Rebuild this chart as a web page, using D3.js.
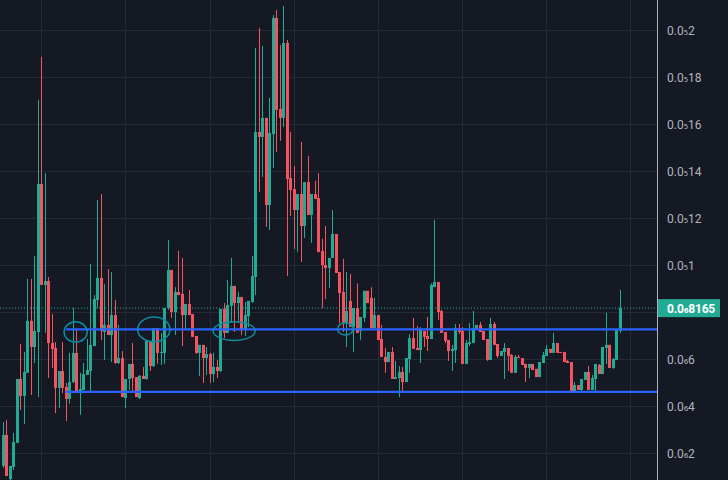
<!DOCTYPE html>
<html>
<head>
<meta charset="utf-8">
<script src="https://cdn.jsdelivr.net/npm/d3@7"></script>
<style>
  html, body { margin: 0; padding: 0; background: #151924; overflow: hidden; }
  svg { display: block; }
</style>
</head>
<body>
<script>
// prices are in units of 1e-7
var opens = [
    1.45,2.77,.89,1.41,2.43,5.15,4.43,5.41,7.62,6.51,
    7.15,13.45,9.15,9.32,6.68,6.47,4.77,5.49,4.81,4.30,
    5.02,6.26,4.55,4.68,5.32,5.49,6.55,8.51,9.45,7.15,
    7.45,7.02,7.87,5.83,6.04,4.34,5.15,5.79,5.23,4.34,
    5.28,5.15,6.77,5.70,7.32,6.26,6.26,8.17,9.79,8.00,
    8.85,8.77,7.87,8.34,7.91,6.98,6.26,6.60,6.04,6.21,
    5.36,5.66,5.49,8.13,7.11,8.26,9.11,8.38,8.64,7.24,
    7.83,8.43,9.49,15.66,15.45,16.26,12.55,15.57,20.51,16.64,
    16.26,19.45,13.70,13.23,12.34,13.02,11.66,13.53,12.13,13.02,
    12.85,10.60,10.00,9.87,10.30,11.32,9.70,8.85,7.53,8.47,
    7.36,8.17,7.19,7.75,8.90,8.60,7.32,7.87,6.85,6.09,
    5.87,6.30,5.15,5.19,5.45,5.02,6.00,6.89,6.47,6.38,
    7.19,6.98,6.85,9.06,9.28,8.04,7.15,6.81,6.34,6.38,
    7.32,7.19,5.79,6.64,6.68,7.28,7.45,7.19,6.85,5.96,
    7.49,6.64,6.13,6.30,6.47,6.17,5.41,6.09,6.04,5.79,
    5.62,5.79,5.58,5.23,5.83,6.13,6.43,6.26,6.68,6.30,
    6.30,5.92,5.87,4.60,4.89,4.68,5.11,5.45,4.68,5.15,
    5.75,5.36,6.47,6.60,5.62,5.96,7.19
];
var highs = [
    3.32,3.41,1.45,2.85,5.15,6.64,6.30,9.41,9.41,10.38,
    17.02,18.85,13.91,9.49,7.91,6.72,5.49,6.72,4.98,6.26,
    8.17,7.24,5.41,5.83,6.85,10.04,8.72,12.77,13.02,9.19,
    9.83,9.70,8.51,7.45,6.34,5.15,5.79,6.68,5.23,5.32,
    5.66,6.77,6.77,7.32,7.32,7.11,8.17,11.06,9.79,9.06,
    10.60,10.30,8.34,8.94,7.91,6.98,6.60,6.60,6.51,6.26,
    6.26,5.96,8.13,8.38,9.36,10.30,9.11,8.85,8.64,8.43,
    8.47,10.38,19.24,20.09,19.32,16.26,17.11,20.64,20.85,19.36,
    21.02,19.58,15.66,14.21,13.02,15.24,13.53,14.64,13.02,13.58,
    13.91,11.11,11.66,10.30,12.34,11.32,9.70,10.26,9.70,9.62,
    8.17,9.22,7.79,8.90,8.90,9.06,8.60,7.87,7.45,6.47,
    6.30,6.51,5.92,5.70,5.66,6.04,7.06,7.75,7.41,7.36,
    7.19,7.79,9.22,11.92,9.28,8.09,7.15,6.81,6.60,7.49,
    7.49,7.36,6.81,7.53,8.04,7.45,7.58,7.19,6.85,7.75,
    7.58,6.64,6.34,6.68,6.47,6.21,6.17,6.17,6.04,5.79,
    5.79,5.79,5.58,5.87,6.30,6.60,6.43,7.11,6.68,6.30,
    6.30,5.96,5.87,5.02,4.89,5.15,5.45,5.70,5.32,5.79,
    5.79,6.51,7.96,6.60,6.04,7.24,8.94
];
var lows = [
    1.36,1.02,.85,1.28,2.43,3.83,3.23,5.41,4.47,5.83,
    4.38,9.15,7.11,5.19,5.62,3.70,3.92,4.55,3.36,4.09,
    4.98,4.55,3.62,4.68,5.32,4.60,6.55,8.17,6.81,5.96,
    7.02,5.87,5.79,5.79,4.38,3.92,4.68,4.60,4.38,4.30,
    5.15,5.11,5.49,5.66,5.79,5.75,5.79,8.09,7.75,7.02,
    8.72,6.55,7.28,7.87,6.94,6.21,5.28,4.98,5.32,4.98,
    5.02,5.19,5.45,6.89,7.11,7.53,7.15,7.53,7.02,6.98,
    7.36,8.38,8.72,13.11,13.75,11.62,11.49,14.13,14.81,15.28,
    15.87,9.53,12.09,10.68,10.55,10.13,11.15,12.13,10.94,12.81,
    10.55,8.17,8.55,9.02,10.30,9.66,7.53,7.15,6.51,7.36,
    6.30,7.11,6.81,7.58,8.38,7.32,7.32,6.81,6.09,5.41,
    5.87,5.15,5.15,4.38,4.60,5.02,5.41,6.43,6.38,5.83,
    6.51,6.34,6.85,9.06,7.66,7.11,6.68,5.92,5.49,5.83,
    7.06,5.79,5.79,6.55,6.68,7.28,7.15,6.81,5.92,5.96,
    6.60,6.04,6.13,5.15,5.49,5.41,5.41,6.04,5.75,5.02,
    5.19,5.53,5.23,5.23,5.83,6.13,6.26,6.26,6.26,6.26,
    5.87,5.83,4.60,4.60,4.68,4.60,5.11,4.68,4.68,4.60,
    5.36,5.36,5.79,5.62,5.58,5.96,7.11
];
var closes = [
    2.77,1.02,1.45,2.47,5.15,4.43,5.45,7.62,6.51,7.19,
    13.45,9.15,9.32,6.68,6.43,4.77,5.49,4.77,4.30,5.02,
    6.26,4.55,4.72,5.36,5.53,6.60,8.55,9.45,7.19,7.45,
    7.02,7.87,5.83,6.04,4.38,5.15,5.79,5.19,4.38,5.28,
    5.15,6.77,5.70,7.32,6.26,6.30,8.17,9.79,8.00,8.85,
    8.72,7.87,8.34,7.87,6.94,6.26,6.60,6.04,6.21,5.36,
    5.66,5.49,8.13,7.11,8.30,9.11,8.38,8.64,7.24,7.87,
    8.47,9.53,15.66,15.45,16.26,12.55,15.62,20.51,16.60,16.26,
    19.45,13.66,13.19,12.34,13.02,11.66,13.53,12.13,13.02,12.81,
    10.55,10.00,9.87,10.30,11.32,9.66,8.81,7.53,8.04,7.36,
    8.17,7.11,7.79,8.90,8.38,7.32,7.87,6.81,6.09,5.87,
    6.30,5.15,5.23,5.45,5.02,6.04,6.89,6.43,6.38,7.24,
    6.94,6.85,9.15,9.28,8.00,7.11,6.77,6.34,6.43,7.32,
    7.15,5.79,6.68,6.72,7.32,7.45,7.15,6.81,5.96,7.49,
    6.60,6.13,6.34,6.47,6.13,5.41,6.09,6.04,5.75,5.62,
    5.79,5.53,5.23,5.87,6.17,6.43,6.26,6.68,6.26,6.26,
    5.87,5.83,4.60,4.89,4.68,5.15,5.45,4.68,5.19,5.79,
    5.36,6.51,6.60,5.62,6.00,7.24,8.165
];

var priceTicks = [20, 18, 16, 14, 12, 10, 8, 6, 4, 2];
var priceLabels = ['0.0₅2', '0.0₅18', '0.0₅16', '0.0₅14', '0.0₅12', '0.0₅1', '', '0.0₆6', '0.0₆4', '0.0₆2'];
var gridBars = [11, 35, 59, 83, 107, 131, 155, 179];

var lastPrice = 8.165;
var lastPriceLabel = '0.0₆8165';

// the two levels drawn by hand, they start a bit after the left edge
var levels = [7.26, 4.6];
var levelStartBar = 18;

// hand drawn circles: bar, price, half width in bars, half height in price
var circleBars = [20.8, 43.1, 66, 97.7];
var circlePrices = [7.15, 7.26, 7.19, 7.28];
var circleBarRadius = [3.3, 4.6, 6, 2.2];
var circlePriceRadius = [0.43, 0.53, 0.4, 0.26];

var width = 728;
var height = 480;
var axisX = 657;
var bg = '#151924';
var up = '#22ab94';
var down = '#f7525f';
var grid = '#262a35';
var levelColor = '#2962ff';
var circleColor = '#0e8ca0';
var font = 'Roboto, "Noto Sans", sans-serif';

var x = d3.scaleLinear().domain([0, 176]).range([2.7, 619.9]);
var y = d3.scaleLinear().domain([2, 20]).range([453, 30]);

// Roboto's subscript digits are tiny, so the zero count gets its own font.
function setPriceText(sel, label) {
    var parts = label.split(/([₅₆])/);
    sel.text(null);
    parts.forEach(function (p) {
        var t = sel.append('tspan').text(p);
        if (p === '₅' || p === '₆') {
            t.style('font-family', '"DejaVu Sans"').style('font-size', '11px');
        }
    });
}

var svg = d3.select('body').append('svg')
    .attr('width', width)
    .attr('height', height)
    .style('background', bg);

// grid
svg.append('g').selectAll('line').data(priceTicks).enter().append('line')
    .attr('x1', 0).attr('x2', axisX)
    .attr('y1', function (d) { return Math.round(y(d)) + 0.5; })
    .attr('y2', function (d) { return Math.round(y(d)) + 0.5; })
    .attr('stroke', grid);

svg.append('g').selectAll('line').data(gridBars).enter().append('line')
    .attr('y1', 0).attr('y2', height)
    .attr('x1', function (d) { return Math.round(x(d)) + 0.5; })
    .attr('x2', function (d) { return Math.round(x(d)) + 0.5; })
    .attr('stroke', grid);

// candles
var bars = d3.range(opens.length);
var candles = svg.append('g').selectAll('g').data(bars).enter().append('g')
    .attr('fill', function (i) { return closes[i] >= opens[i] ? up : down; });

candles.append('rect')
    .attr('x', function (i) { return Math.round(x(i)); })
    .attr('width', 1)
    .attr('y', function (i) { return y(highs[i]); })
    .attr('height', function (i) { return y(lows[i]) - y(highs[i]); });

candles.append('rect')
    .attr('x', function (i) { return Math.round(x(i)) - 1; })
    .attr('width', 3)
    .attr('y', function (i) { return y(Math.max(opens[i], closes[i])); })
    .attr('height', function (i) { return Math.max(1, Math.abs(y(opens[i]) - y(closes[i]))); });

// last price line
svg.append('line')
    .attr('x1', 0).attr('x2', axisX)
    .attr('y1', y(lastPrice)).attr('y2', y(lastPrice))
    .attr('stroke', up)
    .attr('stroke-dasharray', '1 2');

// levels
svg.append('g').selectAll('line').data(levels).enter().append('line')
    .attr('x1', x(levelStartBar)).attr('x2', axisX)
    .attr('y1', function (d) { return y(d); })
    .attr('y2', function (d) { return y(d); })
    .attr('stroke', levelColor)
    .attr('stroke-width', 2.4);

// circles
svg.append('g').selectAll('ellipse').data(circleBars).enter().append('ellipse')
    .attr('cx', function (d) { return x(d); })
    .attr('cy', function (d, i) { return y(circlePrices[i]); })
    .attr('rx', function (d, i) { return x(circleBarRadius[i]) - x(0); })
    .attr('ry', function (d, i) { return y(0) - y(circlePriceRadius[i]); })
    .attr('fill', 'none')
    .attr('stroke', circleColor)
    .attr('stroke-width', 1.5);

// price axis on the right
var axis = d3.axisRight(y)
    .tickValues(priceTicks)
    .tickSize(0)
    .tickPadding(9.5)
    .tickFormat(function (d, i) { return priceLabels[i]; });

var axisG = svg.append('g')
    .attr('transform', 'translate(' + (axisX + 0.5) + ',0)')
    .call(axis);
axisG.select('.domain').remove();
axisG.selectAll('text')
    .attr('fill', '#b2b5be')
    .attr('dy', '0.4em')
    .style('font-family', font)
    .style('font-size', '12px')
    .each(function (d, i) { setPriceText(d3.select(this), priceLabels[i]); });

svg.append('line')
    .attr('x1', axisX + 0.5).attr('x2', axisX + 0.5)
    .attr('y1', 0).attr('y2', height)
    .attr('stroke', '#b2b5be');

// last price tag
svg.append('rect')
    .attr('x', axisX + 1).attr('width', 62)
    .attr('y', y(lastPrice) - 9).attr('height', 18)
    .attr('fill', up);

var tag = svg.append('text')
    .attr('x', axisX + 10)
    .attr('y', y(lastPrice))
    .attr('dy', '0.38em')
    .attr('fill', '#ffffff')
    .style('font-family', font)
    .style('font-size', '12px')
    .style('font-weight', 'bold')
    .style('letter-spacing', '-0.2px');
setPriceText(tag, lastPriceLabel);
</script>
</body>
</html>
